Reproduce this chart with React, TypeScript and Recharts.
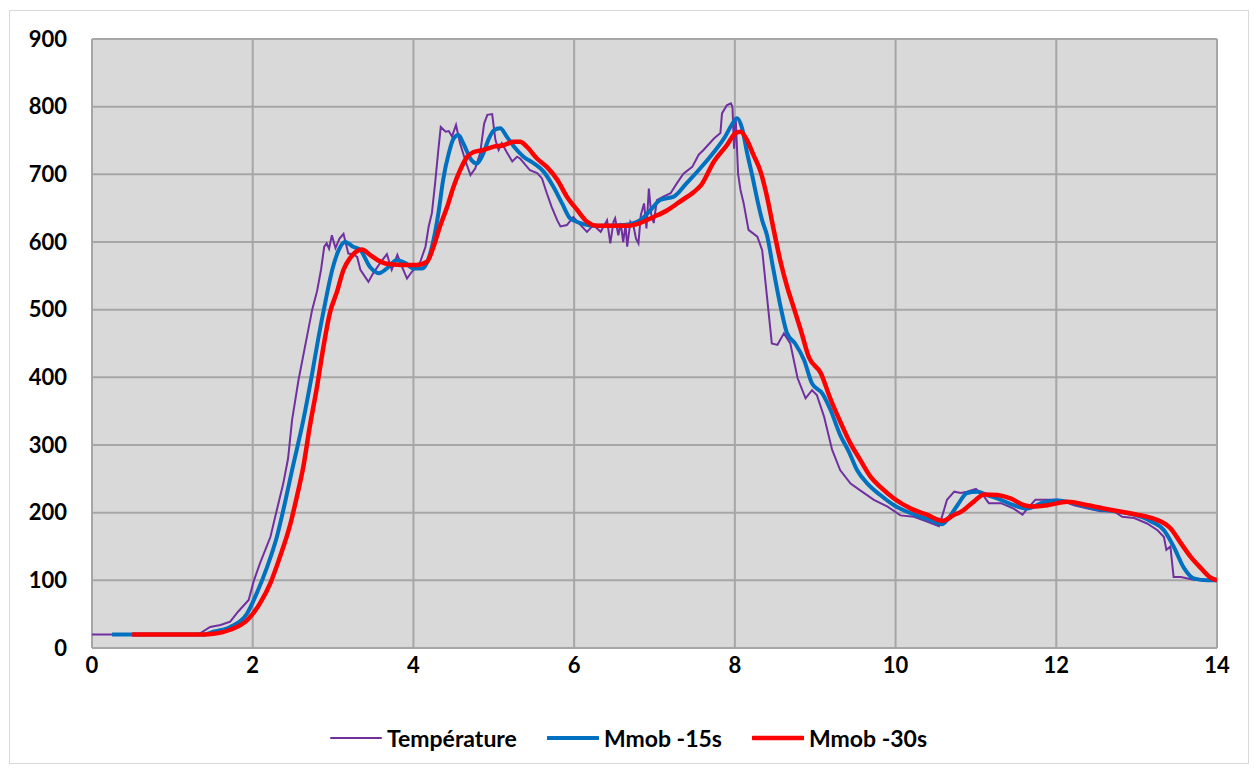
import { LineChart, Line, XAxis, YAxis, CartesianGrid } from "recharts";

// x in minutes, y in °C
const xTicks = [0, 2, 4, 6, 8, 10, 12, 14];
const yTicks = [0, 100, 200, 300, 400, 500, 600, 700, 800, 900];

const tempX = [
  0, 1.3, 1.35, 1.47, 1.6, 1.72, 1.82, 1.95, 2.01, 2.09, 2.22, 2.3, 2.38, 2.44, 2.49, 2.57, 2.65, 2.74, 2.8, 2.85,
  2.89, 2.92, 2.95, 2.985, 3.03, 3.08, 3.13, 3.19, 3.25, 3.3, 3.34, 3.44, 3.5, 3.61, 3.67, 3.73, 3.8, 3.86, 3.92, 3.98,
  4.08, 4.15, 4.19, 4.23, 4.27, 4.31, 4.34, 4.4, 4.44, 4.48, 4.53, 4.58, 4.65, 4.71, 4.77, 4.83, 4.88, 4.92, 4.98, 5.02,
  5.06, 5.1, 5.16, 5.23, 5.29, 5.33, 5.45, 5.54, 5.6, 5.66, 5.72, 5.79, 5.83, 5.91, 5.99, 6.08, 6.16, 6.24, 6.33, 6.41,
  6.45, 6.49, 6.51, 6.55, 6.58, 6.61, 6.64, 6.66, 6.7, 6.74, 6.77, 6.8, 6.83, 6.87, 6.9, 6.93, 6.96, 6.99, 7.03, 7.11,
  7.2, 7.28, 7.36, 7.47, 7.55, 7.61, 7.74, 7.82, 7.84, 7.9, 7.95, 7.97, 7.99, 8.01, 8.04, 8.07, 8.11, 8.17, 8.28, 8.34,
  8.4, 8.46, 8.53, 8.61, 8.69, 8.78, 8.88, 8.96, 9.02, 9.11, 9.21, 9.31, 9.44, 9.56, 9.73, 9.9, 10.06, 10.23, 10.39, 10.54,
  10.59, 10.64, 10.73, 10.81, 10.89, 11.0, 11.1, 11.16, 11.31, 11.47, 11.58, 11.64, 11.74, 11.89, 12.05, 12.22, 12.39, 12.55, 12.72, 12.82,
  12.97, 13.13, 13.26, 13.34, 13.37, 13.42, 13.46, 13.55, 13.71, 14.0,
];
const tempY = [
  20, 20, 22, 31, 34, 39, 54, 71, 98, 125, 164, 204, 243, 280, 337, 396, 445, 500, 527, 559,
  593, 598, 590, 610, 591, 605, 612, 583, 582, 578, 559, 541, 554, 573, 582, 559, 581, 563, 546, 556,
  569, 593, 623, 643, 687, 736, 770, 763, 764, 756, 773, 746, 719, 699, 709, 731, 775, 788, 789, 751,
  736, 746, 733, 719, 726, 723, 706, 702, 694, 672, 652, 632, 623, 625, 637, 625, 615, 625, 615, 632,
  598, 630, 635, 610, 628, 600, 625, 593, 630, 623, 605, 598, 640, 657, 620, 679, 640, 628, 662, 667,
  672, 687, 701, 711, 729, 736, 753, 761, 790, 802, 805, 800, 738, 785, 701, 677, 657, 618, 608, 588,
  519, 450, 448, 465, 450, 399, 369, 381, 374, 342, 293, 263, 243, 233, 219, 209, 196, 194, 187, 180,
  199, 219, 231, 229, 231, 235, 224, 214, 214, 206, 197, 206, 219, 219, 219, 211, 206, 202, 202, 194,
  192, 184, 174, 164, 145, 150, 105, 105, 101, 100,
];

const mm15X = [
  0.25, 1.4, 1.51, 1.72, 1.93, 2.05, 2.18, 2.3, 2.4, 2.49, 2.63, 2.74, 2.82, 2.9, 2.99, 3.07, 3.15, 3.25, 3.34, 3.46,
  3.57, 3.67, 3.79, 3.9, 4.0, 4.11, 4.19, 4.25, 4.31, 4.37, 4.44, 4.5, 4.56, 4.62, 4.71, 4.79, 4.87, 4.94, 5.0, 5.08,
  5.16, 5.25, 5.37, 5.5, 5.62, 5.74, 5.85, 5.95, 6.08, 6.24, 6.41, 6.62, 6.82, 6.95, 7.07, 7.24, 7.4, 7.57, 7.74, 7.88,
  7.97, 8.03, 8.09, 8.15, 8.22, 8.28, 8.34, 8.4, 8.48, 8.57, 8.65, 8.75, 8.86, 8.96, 9.09, 9.19, 9.31, 9.42, 9.52, 9.65,
  9.81, 9.98, 10.15, 10.31, 10.48, 10.58, 10.64, 10.77, 10.89, 11.02, 11.14, 11.31, 11.47, 11.64, 11.81, 12.01, 12.22, 12.47, 12.72, 12.97,
  13.18, 13.34, 13.46, 13.59, 13.71, 13.88, 14.0,
];
const mm15Y = [
  20, 20, 24, 31, 51, 81, 120, 164, 214, 263, 337, 406, 460, 509, 559, 588, 600, 593, 588, 563,
  554, 561, 573, 569, 561, 561, 576, 603, 642, 692, 731, 753, 758, 746, 723, 716, 731, 753, 765, 768,
  756, 741, 726, 716, 704, 682, 657, 635, 628, 624, 624, 625, 632, 647, 662, 667, 687, 709, 733, 756,
  775, 783, 768, 733, 696, 662, 632, 610, 559, 504, 465, 450, 426, 391, 376, 352, 315, 290, 263, 243,
  226, 211, 201, 194, 187, 183, 189, 211, 229, 231, 226, 219, 211, 206, 214, 218, 214, 206, 202, 197,
  187, 174, 150, 118, 103, 100, 100,
];

const mm30X = [
  0.5, 1.4, 1.51, 1.72, 1.93, 2.09, 2.22, 2.34, 2.47, 2.55, 2.63, 2.71, 2.8, 2.88, 2.96, 3.05, 3.13, 3.21, 3.32, 3.36,
  3.46, 3.59, 3.71, 3.88, 4.04, 4.17, 4.25, 4.33, 4.42, 4.5, 4.58, 4.67, 4.75, 4.87, 5.0, 5.12, 5.25, 5.33, 5.41, 5.54,
  5.66, 5.79, 5.91, 6.04, 6.16, 6.29, 6.45, 6.66, 6.82, 6.99, 7.16, 7.32, 7.49, 7.58, 7.74, 7.9, 8.01, 8.07, 8.15, 8.23,
  8.32, 8.4, 8.48, 8.57, 8.65, 8.73, 8.82, 8.92, 9.07, 9.19, 9.31, 9.44, 9.56, 9.69, 9.81, 9.98, 10.19, 10.39, 10.59, 10.73,
  10.81, 10.97, 11.1, 11.27, 11.43, 11.6, 11.72, 11.89, 12.14, 12.39, 12.64, 12.88, 13.09, 13.26, 13.42, 13.55, 13.67, 13.8, 13.92, 14.0,
];
const mm30Y = [
  20, 20, 21, 27, 41, 66, 96, 135, 184, 224, 268, 327, 386, 445, 495, 527, 559, 576, 588, 589,
  581, 571, 567, 566, 566, 571, 593, 623, 652, 682, 706, 726, 733, 736, 741, 743, 748, 748, 741, 723,
  711, 692, 667, 647, 630, 624, 624, 624, 628, 637, 647, 660, 674, 684, 719, 743, 761, 763, 751, 729,
  704, 667, 620, 570, 534, 504, 470, 430, 406, 368, 335, 302, 278, 253, 238, 221, 206, 197, 188, 197,
  201, 216, 227, 226, 221, 211, 209, 211, 216, 211, 205, 200, 195, 189, 177, 155, 135, 118, 104, 100,
];

const toPoints = (xs: number[], ys: number[]) => xs.map((x, i) => ({ x, y: ys[i] }));

const series = [
  { name: "Température", data: toPoints(tempX, tempY), color: "#7030a0", width: 2, type: "linear" as const },
  { name: "Mmob -15s", data: toPoints(mm15X, mm15Y), color: "#0070c0", width: 4, type: "monotone" as const },
  { name: "Mmob -30s", data: toPoints(mm30X, mm30Y), color: "#ff0000", width: 4.5, type: "monotone" as const },
];

const font = "Lato, 'Noto Sans', sans-serif";
const tickStyle = { fontFamily: font, fontSize: 22, fontWeight: 700, fill: "#000" };

export default function App() {
  return (
    <div style={{ position: "absolute", left: 0, top: 0, width: 1257, height: 773, background: "#fff" }}>
      <div
        style={{
          position: "absolute",
          left: 9,
          top: 10,
          width: 1238,
          height: 752,
          border: "1px solid #d9d9d9",
        }}
      />
      <LineChart width={1257} height={773} margin={{ top: 39, right: 40, bottom: 85, left: 0 }}>
        <CartesianGrid fill="#d9d9d9" stroke="#a6a6a6" strokeWidth={2} />
        <XAxis
          dataKey="x"
          type="number"
          domain={[0, 14]}
          ticks={xTicks}
          tickLine={false}
          axisLine={false}
          tickSize={0}
          tickMargin={9}
          height={40}
          tick={tickStyle}
          allowDataOverflow
        />
        <YAxis
          type="number"
          domain={[0, 900]}
          ticks={yTicks}
          tickLine={false}
          axisLine={false}
          tickSize={0}
          tickMargin={25}
          width={92}
          tick={tickStyle}
        />
        {series.map((s) => (
          <Line
            key={s.name}
            data={s.data}
            dataKey="y"
            name={s.name}
            type={s.type}
            stroke={s.color}
            strokeWidth={s.width}
            dot={false}
            activeDot={false}
            isAnimationActive={false}
          />
        ))}
      </LineChart>
      <div
        style={{
          position: "absolute",
          left: 0,
          top: 724,
          width: 1257,
          display: "flex",
          justifyContent: "center",
          gap: 30,
          fontFamily: font,
          fontSize: 23,
          fontWeight: 700,
        }}
      >
        {series.map((s) => (
          <div key={s.name} style={{ display: "flex", alignItems: "center", gap: 5 }}>
            <svg width={52} height={10}>
              <line x1={1} y1={5} x2={51} y2={5} stroke={s.color} strokeWidth={s.width} strokeLinecap="round" />
            </svg>
            <span>{s.name}</span>
          </div>
        ))}
      </div>
    </div>
  );
}
